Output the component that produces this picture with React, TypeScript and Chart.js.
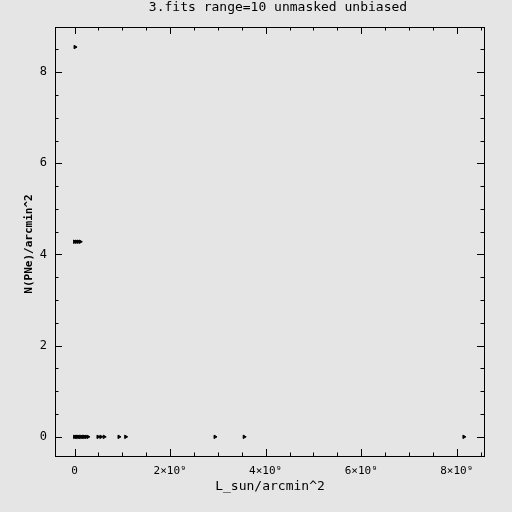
import React, { useEffect, useRef } from "react";
import { Chart, registerables } from "chart.js";

Chart.register(...registerables);

const titleText = "3.fits range=10 unmasked unbiased";
const xAxisLabel = "L_sun/arcmin^2";
const yAxisLabel = "N(PNe)/arcmin^2";

// luminosity density (L_sun/arcmin^2) and PN density values
const xZero = [0, 0.03e9, 0.06e9, 0.09e9, 0.12e9, 0.15e9, 0.18e9, 0.21e9, 0.24e9, 0.28e9, 0.49e9, 0.55e9, 0.62e9, 0.93e9, 1.07e9, 2.94e9, 3.55e9, 8.15e9];
const xMid = [0, 0.04e9, 0.08e9, 0.12e9];
const yMid = 4.28;
const xTop = [0.01e9];
const yTop = 8.55;

const xMajorTicks = [0, 2e9, 4e9, 6e9, 8e9];
const xTickLabels = ["0", "2×10⁹", "4×10⁹", "6×10⁹", "8×10⁹"];
const yMajorTicks = [0, 2, 4, 6, 8];
const yTickLabels = ["0", "2", "4", "6", "8"];

const X_MIN = -0.41e9;
const X_MAX = 8.57e9;
const Y_MIN = -0.42;
const Y_MAX = 8.99;

const BG = "#e5e5e5";

export default function App() {
  const ref = useRef<HTMLCanvasElement>(null);
  useEffect(() => {
    if (!ref.current) return;
    const points = [
      ...xZero.map((x) => ({ x, y: 0 })),
      ...xMid.map((x) => ({ x, y: yMid })),
      ...xTop.map((x) => ({ x, y: yTop })),
    ];
    const framePlugin = {
      id: "frame",
      beforeDraw(chart: any) {
        const ctx = chart.ctx;
        ctx.save();
        ctx.fillStyle = BG;
        ctx.fillRect(0, 0, chart.width, chart.height);
        ctx.restore();
      },
      afterDraw(chart: any) {
        const ctx = chart.ctx;
        const { left, right, top, bottom } = chart.chartArea;
        const xs = chart.scales.x;
        const ys = chart.scales.y;
        ctx.save();
        ctx.strokeStyle = "#000";
        ctx.lineWidth = 1;
        ctx.strokeRect(Math.round(left) + 0.5, Math.round(top) + 0.5, Math.round(right - left), Math.round(bottom - top));
        ctx.beginPath();
        for (let v = 0; v <= X_MAX; v += 0.5e9) {
          const px = Math.round(xs.getPixelForValue(v)) + 0.5;
          const major = Math.abs(v % 2e9) < 1;
          const len = major ? 7 : 3.5;
          ctx.moveTo(px, bottom);
          ctx.lineTo(px, bottom - len);
          ctx.moveTo(px, top);
          ctx.lineTo(px, top + len);
        }
        for (let v = 0; v <= Y_MAX; v += 0.5) {
          const py = Math.round(ys.getPixelForValue(v)) + 0.5;
          const major = Math.abs(v % 2) < 1e-9;
          const len = major ? 7 : 3.5;
          ctx.moveTo(left, py);
          ctx.lineTo(left + len, py);
          ctx.moveTo(right, py);
          ctx.lineTo(right - len, py);
        }
        ctx.stroke();
        ctx.fillStyle = "#000";
        ctx.textAlign = "center";
        ctx.textBaseline = "middle";
        ctx.font = "13px 'DejaVu Sans Mono'";
        ctx.fillText(titleText, 278, 8);
        ctx.fillText(xAxisLabel, 270, 487);
        ctx.save();
        ctx.translate(29, 244);
        ctx.rotate(-Math.PI / 2);
        ctx.font = "bold 11px 'DejaVu Sans Mono'";
        ctx.fillText(yAxisLabel, 0, 0);
        ctx.restore();
        ctx.restore();
      },
    };
    const chart = new Chart(ref.current, {
      type: "scatter",
      data: {
        datasets: [
          {
            data: points,
            pointStyle: "triangle",
            rotation: 90,
            radius: 2,
            borderWidth: 1,
            backgroundColor: "#000",
            borderColor: "#000",
          },
        ],
      },
      options: {
        animation: false,
        responsive: false,
        layout: { padding: { top: 27, right: 28, left: 0, bottom: 0 } },
        plugins: { legend: { display: false }, tooltip: { enabled: false }, title: { display: false } },
        scales: {
          x: {
            type: "linear",
            min: X_MIN,
            max: X_MAX,
            afterBuildTicks: (s: any) => {
              s.ticks = xMajorTicks.map((v) => ({ value: v }));
            },
            afterFit: (s: any) => {
              s.height = 56;
            },
            grid: { display: false, drawTicks: false },
            border: { display: false },
            ticks: {
              padding: 9,
              color: "#000",
              maxRotation: 0,
              autoSkip: false,
              font: { family: "'DejaVu Sans Mono'", size: 11 },
              callback: (v: any) => {
                const i = xMajorTicks.indexOf(Number(v));
                return i >= 0 ? xTickLabels[i] : "";
              },
            },
          },
          y: {
            type: "linear",
            min: Y_MIN,
            max: Y_MAX,
            afterBuildTicks: (s: any) => {
              s.ticks = yMajorTicks.map((v) => ({ value: v }));
            },
            afterFit: (s: any) => {
              s.width = 55;
            },
            grid: { display: false, drawTicks: false },
            border: { display: false },
            ticks: {
              padding: 8,
              color: "#000",
              autoSkip: false,
              font: { family: "'DejaVu Sans Mono'", size: 12 },
              callback: (v: any) => {
                const i = yMajorTicks.indexOf(Number(v));
                return i >= 0 ? yTickLabels[i] : "";
              },
            },
          },
        },
      },
      plugins: [framePlugin],
    });
    return () => chart.destroy();
  }, []);
  return (
    <canvas
      ref={ref}
      width={512}
      height={512}
      style={{ position: "fixed", left: 0, top: 0, width: 512, height: 512, display: "block" }}
    />
  );
}
